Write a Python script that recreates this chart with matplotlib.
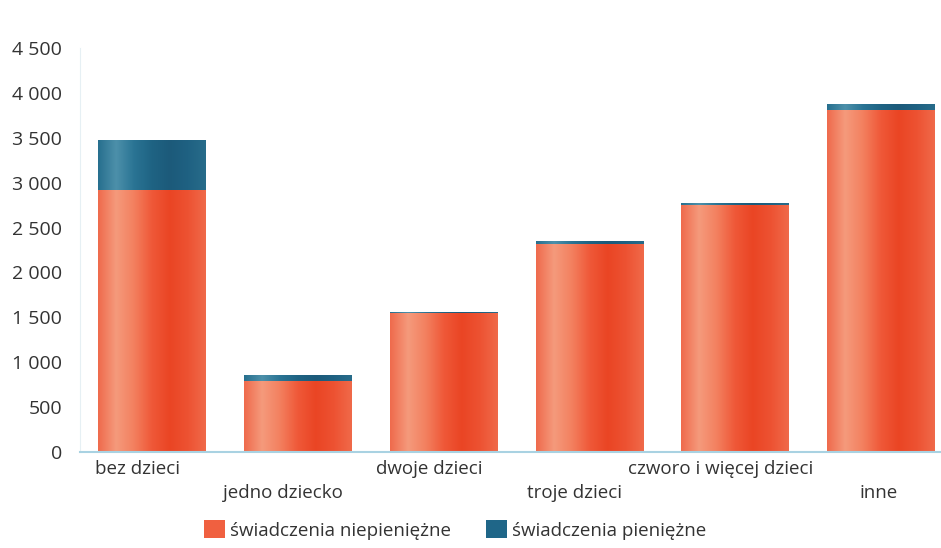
import numpy as np
import matplotlib.pyplot as plt
from matplotlib.colors import LinearSegmentedColormap
from matplotlib.patches import Patch
from matplotlib.ticker import FuncFormatter

plt.rcParams['font.family'] = ['Open Sans', 'DejaVu Sans']

categories = ["bez dzieci", "jedno dziecko", "dwoje dzieci", "troje dzieci",
              "czworo i więcej dzieci", "inne"]
niepieniezne = [2920, 790, 1550, 2315, 2750, 3805]
pieniezne = [550, 65, 8, 30, 22, 65]
series_names = ["świadczenia niepieniężne", "świadczenia pieniężne"]
yticks = [0, 500, 1000, 1500, 2000, 2500, 3000, 3500, 4000, 4500]

orange_cmap = LinearSegmentedColormap.from_list(
    "orange", ["#ef6a4c", "#f59a7c", "#f3805f", "#ef5838", "#ea4524", "#ed5232", "#f06a4a"])
blue_cmap = LinearSegmentedColormap.from_list(
    "blue", ["#276f8e", "#4d90aa", "#2a7494", "#1f6383", "#1c5a7a", "#1f6182", "#286c8a"])

fig = plt.figure(figsize=(9.41, 5.48), dpi=100)
ax = fig.add_axes([80 / 941, 96 / 548, 861 / 941, 404 / 548])

x = np.arange(len(categories))
width = 0.74
grad = np.linspace(0, 1, 256).reshape(1, -1)

bars_o = ax.bar(x, niepieniezne, width, color="#f06040", zorder=1)
bars_b = ax.bar(x, pieniezne, width, bottom=niepieniezne, color="#1f6688", zorder=1)

for bars, cmap in ((bars_o, orange_cmap), (bars_b, blue_cmap)):
    for b in bars:
        x0, y0 = b.get_x(), b.get_y()
        w, h = b.get_width(), b.get_height()
        ax.imshow(grad, cmap=cmap, aspect="auto", extent=(x0, x0 + w, y0, y0 + h),
                  zorder=2, interpolation="bicubic")

ax.set_xlim(-0.494, 5.41)
ax.set_ylim(0, 4500)
ax.set_yticks(yticks)
ax.yaxis.set_major_formatter(FuncFormatter(lambda v, p: f"{int(v):,}".replace(",", " ")))
ax.tick_params(axis="y", length=0, pad=13, labelsize=14, labelcolor="#333333")
ax.set_xticks([])

for s in ("top", "right"):
    ax.spines[s].set_visible(False)
ax.spines["left"].set_color("#e6f0f4")
ax.spines["left"].set_linewidth(0.8)
ax.spines["bottom"].set_color("#a9d2e2")
ax.spines["bottom"].set_linewidth(1.5)

# labels sit a bit left of bar centres, alternating rows
trans = ax.get_xaxis_transform()
for i, lab in enumerate(categories):
    yy = -0.041 if i % 2 == 0 else -0.101
    dx = -0.02 if i == len(categories) - 1 else -0.1
    ax.text(x[i] + dx, yy, lab, transform=trans, ha="center", va="center",
            fontsize=13.5, color="#333333")

handles = [Patch(facecolor="#f06040"), Patch(facecolor="#1f6688")]
fig.legend(handles, series_names, loc="center", bbox_to_anchor=(455 / 941, 18 / 548),
           ncol=2, frameon=False, fontsize=13.5, handlelength=1.1, handleheight=1.1,
           handletextpad=0.25, columnspacing=1.9, labelcolor="#333333")

fig.savefig("out.png", dpi=100)
